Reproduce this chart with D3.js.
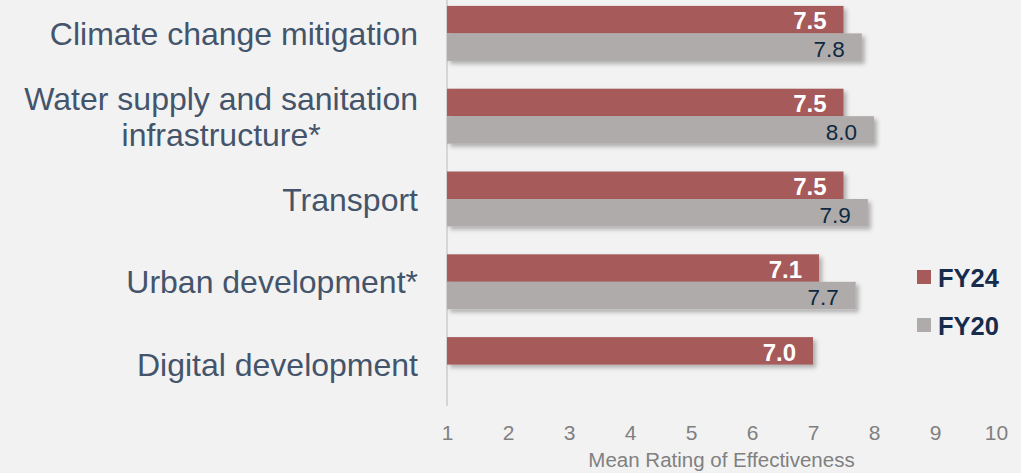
<!DOCTYPE html>
<html><head><meta charset="utf-8">
<script src="https://cdn.jsdelivr.net/npm/d3@7"></script>
<style>
html,body{margin:0;padding:0;background:#f2f2f2;}
svg{display:block;font-family:"Liberation Sans",Arial,sans-serif;}
</style></head>
<body>
<svg id="chart" width="1021" height="473"></svg>
<script>
const categories = [
  ["Climate change mitigation"],
  ["Water supply and sanitation", "infrastructure*"],
  ["Transport"],
  ["Urban development*"],
  ["Digital development"]
];
const seriesNames = ["FY24", "FY20"];
const fy24 = [7.5, 7.5, 7.5, 7.1, 7.0];
const fy20 = [7.8, 8.0, 7.9, 7.7, null];
const xTicks = [1, 2, 3, 4, 5, 6, 7, 8, 9, 10];
const xTitle = "Mean Rating of Effectiveness";
const colors = {FY24: "#a65a5a", FY20: "#afabaa"};

const svg = d3.select("#chart");
const W = 1021, H = 473;
svg.append("rect").attr("width", W).attr("height", H).attr("fill", "#f2f2f2");

const defs = svg.append("defs");
const f = defs.append("filter").attr("id", "shadow").attr("x", "-5%").attr("y", "-20%").attr("width", "115%").attr("height", "160%");
f.append("feDropShadow").attr("dx", 3).attr("dy", 3).attr("stdDeviation", 2)
  .attr("flood-color", "#000").attr("flood-opacity", 0.28);

const catKeys = categories.map(c => c.join(" "));
const x = d3.scaleLinear().domain([1, 10]).range([447, 996]);
const y = d3.scaleBand().domain(catKeys).range([-8, 406]).paddingInner(0.336).paddingOuter(0.168);
const ys = d3.scaleBand().domain(seriesNames).range([0, y.bandwidth()]);

// axis line
svg.append("line").attr("x1", x(1)).attr("x2", x(1)).attr("y1", 0).attr("y2", 406)
  .attr("stroke", "#d6d6d6").attr("stroke-width", 2);

const rows = catKeys.map((k, i) => ({key: k, lines: categories[i], FY24: fy24[i], FY20: fy20[i]}));

const g = svg.append("g");
rows.forEach(r => {
  seriesNames.forEach(s => {
    const v = r[s];
    if (v == null) return;
    const top = y(r.key) + ys(s);
    g.append("rect").attr("x", x(1)).attr("y", top)
      .attr("width", x(v) - x(1)).attr("height", ys.bandwidth())
      .attr("fill", colors[s]).attr("filter", "url(#shadow)");
  });
});
rows.forEach(r => {
  seriesNames.forEach(s => {
    const v = r[s];
    if (v == null) return;
    const top = y(r.key) + ys(s);
    g.append("text").attr("x", x(v) - 17).attr("y", top + 23.5)
      .attr("text-anchor", "end")
      .attr("font-size", s === "FY24" ? 24 : 22.5)
      .attr("font-weight", s === "FY24" ? "bold" : "normal")
      .attr("fill", s === "FY24" ? "#ffffff" : "#0e2841")
      .text(v.toFixed(1));
  });
});

// category labels
const catText = [];
rows.forEach(r => {
  const c = y(r.key) + y.bandwidth() / 2;
  const n = r.lines.length;
  r.lines.forEach((ln, j) => {
    const t = svg.append("text").attr("x", 418).attr("y", c + 11.5 + (j - (n - 1) / 2) * 36)
      .attr("text-anchor", n > 1 ? "middle" : "end")
      .attr("font-size", 32).attr("fill", "#44546a")
      .text(ln);
    if (n > 1) catText.push(t);
  });
});
let maxW = 0;
catText.forEach(t => { maxW = Math.max(maxW, t.node().getComputedTextLength()); });
catText.forEach(t => t.attr("x", 418 - maxW / 2));

// x axis tick labels
const xAxis = d3.axisBottom(x).tickValues(xTicks).tickSize(0).tickPadding(0).tickFormat(d3.format("d"));
const ax = svg.append("g").attr("transform", "translate(0,425)").call(xAxis);
ax.select(".domain").remove();
ax.selectAll("text").attr("font-size", 21).attr("fill", "#808080")
  .attr("font-family", "Liberation Sans, Arial, sans-serif").attr("dy", "0.71em");
svg.append("text").attr("x", (x(1) + x(10)) / 2).attr("y", 467).attr("text-anchor", "middle")
  .attr("font-size", 20.5).attr("fill", "#808080").text(xTitle);

// legend
const leg = svg.append("g");
seriesNames.forEach((s, i) => {
  const yy = 270 + i * 48;
  leg.append("rect").attr("x", 917).attr("y", yy).attr("width", 14).attr("height", 14).attr("fill", colors[s]);
  leg.append("text").attr("x", 938).attr("y", yy + 17).attr("font-size", 25.5).attr("font-weight", "bold")
    .attr("fill", "#172b4d").text(s);
});
</script>
</body></html>
